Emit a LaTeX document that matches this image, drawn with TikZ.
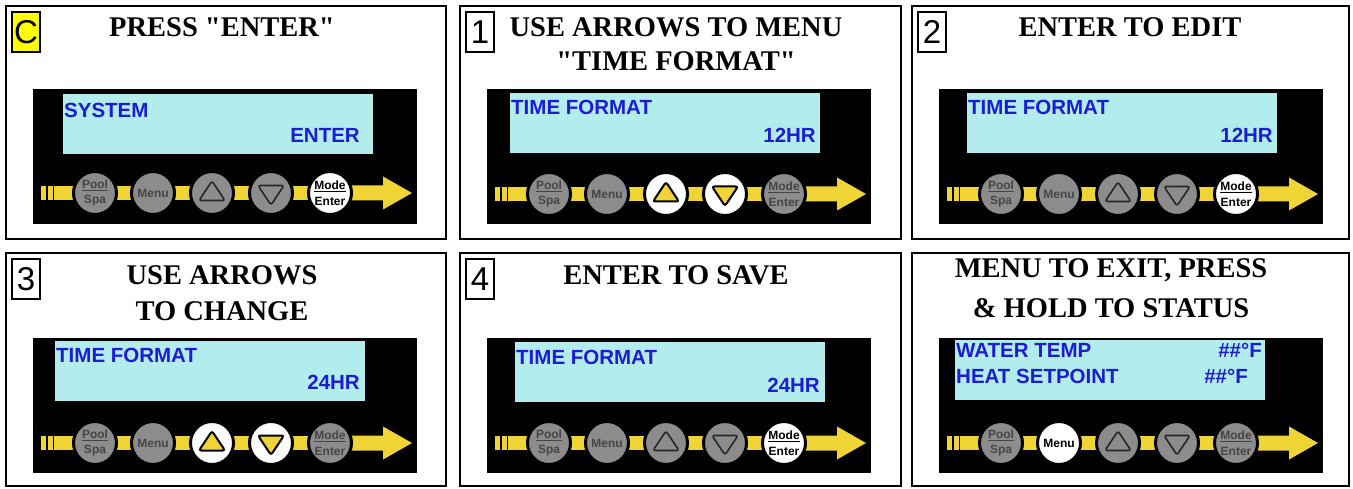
\documentclass[tikz,border=0pt]{standalone}
\usepackage{fontspec}
\setmainfont{Liberation Serif}
\setsansfont{Liberation Sans}
\newfontfamily\titleserif{Liberation Serif}
\usetikzlibrary{positioning}

\definecolor{lcdcyan}{HTML}{B2ECEC}
\definecolor{lcdblue}{HTML}{1C1CD4}
\definecolor{keyyellow}{HTML}{F0D435}
\definecolor{btngray}{HTML}{8C8C8C}
\definecolor{btntext}{HTML}{454545}
\definecolor{labelyellow}{HTML}{FFFF00}

% keypad row: prefix, y of button centres, styles of Pool, Menu, Up, Down, Mode
\newcommand{\keypad}[7]{%
  \begin{scope}[shift={(27,#2)}]
  % yellow track and arrow
  \fill[keyyellow] (8,-7) rectangle (322,7);
  \foreach \sx in {13,19.5}
    \fill[black] (\sx,-8) rectangle ++(1.6,16);
  \fill[keyyellow] (318,-7.5) -- (350,-7.5) -- (350,-16.5) -- (379,0)
    -- (350,16.5) -- (350,7.5) -- (318,7.5) -- cycle;
  % buttons
  \node[#3] (#1-pool) at (62,0) {\underline{Pool}\\Spa};
  \node[#4] (#1-menu) at (120,0) {Menu};
  \node[#5] (#1-up) at (179,0) {};
  \node[#6] (#1-down) at (238,0) {};
  \node[#7] (#1-mode) at (297,0) {\underline{Mode}\\Enter};
  \draw[#5 tri] (166,7.5) -- (192,7.5) -- (179,-12) -- cycle;
  \draw[#6 tri] (225,-7.5) -- (251,-7.5) -- (238,12) -- cycle;
  \end{scope}}

\begin{document}
\begin{tikzpicture}[x=1pt, y=-1pt,
  frame/.style={draw=black, line width=2pt},
  numbox/.style={draw=black, line width=1.5pt, minimum width=28pt, minimum height=40pt,
    inner sep=0pt, font=\sffamily\fontsize{33}{35}\selectfont},
  title/.style={anchor=base, inner sep=0pt, font=\titleserif\bfseries\fontsize{28.5}{32}\selectfont},
  lcd/.style={fill=black},
  screen/.style={fill=lcdcyan},
  lcdtext/.style={inner sep=0pt, text=lcdblue, font=\sffamily\bfseries\fontsize{20.5}{22}\selectfont},
  keyoff/.style={circle, draw=black, line width=3pt, fill=btngray, minimum size=43pt,
    inner sep=0pt, align=center, text=btntext, font=\sffamily\bfseries\fontsize{12}{15.5}\selectfont},
  keyon/.style={keyoff, fill=white, text=black},
  keyoff tri/.style={draw=black!85, fill=btngray, line width=1.6pt, rounded corners=2.5pt},
  keyon tri/.style={draw=black, fill=keyyellow, line width=2pt, rounded corners=2.5pt}]
\useasboundingbox (0,0) rectangle (1353,489);
\fill[white] (0,0) rectangle (1353,489);

% Panel C
\begin{scope}[shift={(6,6)}]
\draw[frame] (0,0) rectangle (440,233);
\node[numbox, fill=labelyellow] (c-num) at (20,26) {C};
\node[title] (c-title) at (216,31) {PRESS "ENTER"};
\fill[lcd] (27,83) rectangle (411,218);
\fill[screen] (57,88) rectangle ++(310,60);
\node[lcdtext, anchor=base west] (c-top) at (58,112) {SYSTEM};
\node[lcdtext, anchor=base east] (c-bottom) at (354,137) {ENTER};
\keypad{c}{187}{keyoff}{keyoff}{keyoff}{keyoff}{keyon}
\end{scope}

% Panel 1
\begin{scope}[shift={(460,6)}]
\draw[frame] (0,0) rectangle (441,233);
\node[numbox] (p1-num) at (20,26) {1};
\node[title] (p1-title) at (216,31) {USE ARROWS TO MENU};
\node[title] (p1-title2) at (216,65) {"TIME FORMAT"};
\fill[lcd] (27,83) rectangle (411,218);
\fill[screen] (50,87) rectangle ++(310,60);
\node[lcdtext, anchor=base west] (p1-top) at (51,109) {TIME FORMAT};
\node[lcdtext, anchor=base east] (p1-bottom) at (356,137) {12HR};
\keypad{p1}{188}{keyoff}{keyoff}{keyon}{keyon}{keyoff}
\end{scope}

% Panel 2
\begin{scope}[shift={(912,6)}]
\draw[frame] (0,0) rectangle (437,233);
\node[numbox] (p2-num) at (20,26) {2};
\node[title] (p2-title) at (218,31) {ENTER TO EDIT};
\fill[lcd] (27,83) rectangle (411,218);
\fill[screen] (55,87) rectangle ++(310,60);
\node[lcdtext, anchor=base west] (p2-top) at (56,109) {TIME FORMAT};
\node[lcdtext, anchor=base east] (p2-bottom) at (361,137) {12HR};
\keypad{p2}{188}{keyoff}{keyoff}{keyoff}{keyoff}{keyon}
\end{scope}

% Panel 3
\begin{scope}[shift={(6,253)}]
\draw[frame] (0,0) rectangle (440,233);
\node[numbox] (p3-num) at (20,26) {3};
\node[title] (p3-title) at (216,31) {USE ARROWS};
\node[title] (p3-title2) at (216,67) {TO CHANGE};
\fill[lcd] (27,85) rectangle (411,220);
\fill[screen] (49,88) rectangle ++(310,60);
\node[lcdtext, anchor=base west] (p3-top) at (50,109) {TIME FORMAT};
\node[lcdtext, anchor=base east] (p3-bottom) at (354,136) {24HR};
\keypad{p3}{190}{keyoff}{keyoff}{keyon}{keyon}{keyoff}
\end{scope}

% Panel 4
\begin{scope}[shift={(460,253)}]
\draw[frame] (0,0) rectangle (441,233);
\node[numbox] (p4-num) at (20,26) {4};
\node[title] (p4-title) at (216,31) {ENTER TO SAVE};
\fill[lcd] (27,85) rectangle (411,220);
\fill[screen] (55,89) rectangle ++(310,60);
\node[lcdtext, anchor=base west] (p4-top) at (56,111) {TIME FORMAT};
\node[lcdtext, anchor=base east] (p4-bottom) at (360,139) {24HR};
\keypad{p4}{190}{keyoff}{keyoff}{keyoff}{keyoff}{keyon}
\end{scope}

% Panel 5 (exit)
\begin{scope}[shift={(912,253)}]
\draw[frame] (0,0) rectangle (437,233);
\node[title] (p5-title) at (199,25) {MENU TO EXIT, PRESS};
\node[title] (p5-title2) at (199,64) {\& HOLD TO STATUS};
\fill[lcd] (27,85) rectangle (411,220);
\fill[screen] (43,87) rectangle ++(310,60);
\node[lcdtext, anchor=base west] (p5-top) at (44,104) {WATER TEMP};
\node[lcdtext, anchor=base east] (p5-topval) at (350,104) {\#\#°F};
\node[lcdtext, anchor=base west] (p5-bottom) at (44,130) {HEAT SETPOINT};
\node[lcdtext, anchor=base east] (p5-bottomval) at (336,130) {\#\#°F};
\keypad{p5}{190}{keyoff}{keyon}{keyoff}{keyoff}{keyoff}
\end{scope}
\end{tikzpicture}
\end{document}
